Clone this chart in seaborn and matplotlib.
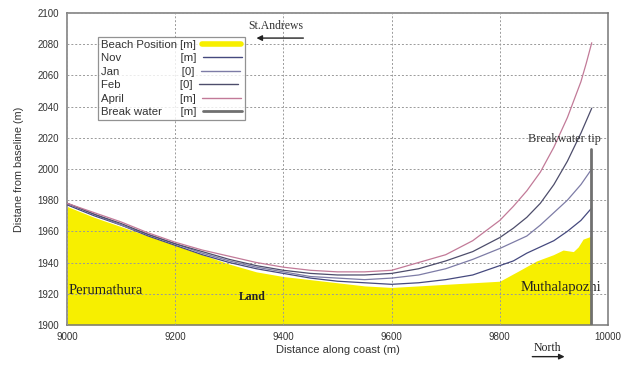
import matplotlib
matplotlib.use('Agg')
import matplotlib.pyplot as plt
import seaborn as sns
import pandas as pd
from matplotlib.lines import Line2D
from matplotlib.ticker import MultipleLocator
from matplotlib.font_manager import FontProperties

# shoreline positions
x_coast = [9000, 9050, 9100, 9150, 9200, 9250, 9300, 9350, 9400, 9450, 9500,
           9550, 9600, 9650, 9700, 9750, 9800, 9825, 9850, 9875, 9900, 9925,
           9950, 9960, 9970]
nov = [1977, 1970, 1964, 1957, 1951, 1945, 1940, 1936, 1933, 1930, 1928,
       1927, 1926, 1927, 1929, 1932, 1938, 1941, 1946, 1950, 1954, 1960,
       1967, 1971, 1975]
jan = [1978, 1971, 1964, 1958, 1952, 1946, 1941, 1937, 1934, 1931, 1930,
       1929, 1930, 1932, 1936, 1942, 1949, 1953, 1957, 1964, 1972, 1980,
       1990, 1995, 2000]
feb = [1978, 1971, 1965, 1958, 1952, 1947, 1942, 1938, 1935, 1933, 1932,
       1932, 1933, 1936, 1941, 1947, 1956, 1962, 1969, 1978, 1990, 2005,
       2023, 2031, 2039]
april = [1978, 1972, 1966, 1959, 1953, 1948, 1944, 1940, 1937, 1935, 1934,
         1934, 1935, 1940, 1945, 1954, 1967, 1976, 1986, 1998, 2014, 2033,
         2056, 2068, 2081]

x_beach = [9000, 9050, 9100, 9150, 9200, 9250, 9300, 9350, 9400, 9450, 9500,
           9550, 9600, 9650, 9700, 9750, 9800, 9837, 9868, 9899, 9917, 9936,
           9945, 9954, 9970]
beach = [1976, 1969, 1963, 1957, 1951, 1945, 1939, 1934, 1931, 1929, 1927,
         1925, 1924, 1925, 1926, 1927, 1928, 1935, 1941, 1945, 1948, 1947,
         1950, 1955, 1957]

breakwater_x = [9969, 9969]
breakwater_y = [1900, 2013]

months = ['Nov', 'Jan', 'Feb', 'April']
units = ['[m]', '[0]', '[0]', '[m]']
month_colors = ['#45497e', '#7d7ca6', '#4d4d6b', '#c27a98']


def main():
    sns.set_style('white')
    plt.rcParams['font.family'] = ['Liberation Sans', 'DejaVu Sans']

    rows = []
    for name, vals in zip(months, [nov, jan, feb, april]):
        for xv, yv in zip(x_coast, vals):
            rows.append({'x': xv, 'y': yv, 'Month': name})
    df = pd.DataFrame(rows)

    fig = plt.figure(figsize=(6.21, 3.65), dpi=100)
    ax = fig.add_axes([0.108, 0.110, 0.871, 0.854])

    ax.fill_between(x_beach, 1900, beach, color='#f7ef00', lw=0, zorder=1)
    sns.lineplot(data=df, x='x', y='y', hue='Month', hue_order=months,
                 palette=month_colors, lw=0.9, legend=False, ax=ax, zorder=3)
    ax.plot(breakwater_x, breakwater_y, color='#707070', lw=2.0, zorder=4)

    ax.set_xlim(9000, 10000)
    ax.set_ylim(1900, 2100)
    ax.xaxis.set_major_locator(MultipleLocator(200))
    ax.xaxis.set_minor_locator(MultipleLocator(20))
    ax.yaxis.set_major_locator(MultipleLocator(20))
    ax.yaxis.set_minor_locator(MultipleLocator(4))
    ax.grid(True, which='major', color='#9a9a9a', ls=(0, (2, 2)), lw=0.7, zorder=2)
    ax.set_axisbelow(False)
    ax.tick_params(which='major', direction='inout', length=4, width=0.7,
                   labelsize=7, colors='#555555', labelcolor='#333333')
    ax.tick_params(which='minor', direction='inout', length=2, width=0.5,
                   colors='#666666')
    for s in ax.spines.values():
        s.set_color('#777777')
        s.set_linewidth(1.1)

    ax.set_xlabel('Distance along coast (m)', fontsize=8, color='#333333', labelpad=2)
    ax.set_ylabel('Distane from baseline (m)', fontsize=7.8, color='#333333', labelpad=10)

    # legend: name column, unit column, then the line sample
    leg_size = 8.2
    names = ['Beach Position', 'Nov', 'Jan', 'Feb', 'April', 'Break water']
    unit_col = ['[m]'] + units + ['[m]']
    renderer = fig.canvas.get_renderer()
    prop = FontProperties(family='Liberation Sans', size=leg_size)

    def text_w(s):
        return renderer.get_text_width_height_descent(s, prop, ismath=False)[0]

    sp = text_w('a a') - text_w('aa')
    target = max(text_w(n) for n in names) + sp * 1.2
    labels = []
    for n, u in zip(names, unit_col):
        k = max(1, int(round((target - text_w(n)) / sp)))
        labels.append(n + ' ' * k + u)

    handles = [Line2D([], [], color='#f7ef00', lw=4)]
    handles += [Line2D([], [], color=c, lw=1.0) for c in month_colors]
    handles += [Line2D([], [], color='#707070', lw=2.0)]
    leg = ax.legend(handles, labels, loc='upper left', bbox_to_anchor=(0.057, 0.923),
                    markerfirst=False, prop=prop, frameon=True, fancybox=False,
                    edgecolor='#777777', borderpad=0.25, labelspacing=0.3,
                    handlelength=3.4, handletextpad=0.6, borderaxespad=0)
    for col in leg._legend_handle_box.get_children():
        col.align = 'left'
    leg.get_frame().set_linewidth(0.9)
    for t in leg.get_texts():
        t.set_color('#333333')

    serif = ['Liberation Serif', 'DejaVu Serif']
    ax.text(9386, 2092, 'St.Andrews', family=serif, fontsize=8.5, color='#333333',
            ha='center', va='center')
    ax.annotate('', xy=(9345, 2084), xytext=(9442, 2084),
                arrowprops=dict(arrowstyle='-|>', color='#222222', lw=1.0,
                                mutation_scale=8))
    ax.text(9919, 2019, 'Breakwater tip', family=serif, fontsize=8.8,
            color='#333333', ha='center', va='center')
    ax.text(9003, 1922, 'Perumathura', family=serif, fontsize=10.5, color='#222222',
            ha='left', va='center')
    ax.text(9342, 1918, 'Land', family=serif, fontsize=8.5, color='#222222',
            ha='center', va='center', fontweight='bold')
    ax.text(9913, 1924, 'Muthalapozhi', family=serif, fontsize=10.5, color='#222222',
            ha='center', va='center')
    ax.text(0.888, -0.075, 'North', transform=ax.transAxes, family=serif,
            fontsize=8.5, color='#222222', ha='center', va='center')
    ax.annotate('', xy=(0.925, -0.102), xytext=(0.855, -0.102), xycoords='axes fraction',
                arrowprops=dict(arrowstyle='-|>', color='#222222', lw=1.0,
                                mutation_scale=8), annotation_clip=False)

    fig.savefig('out.png', dpi=100)
    plt.close(fig)


if __name__ == '__main__':
    main()
